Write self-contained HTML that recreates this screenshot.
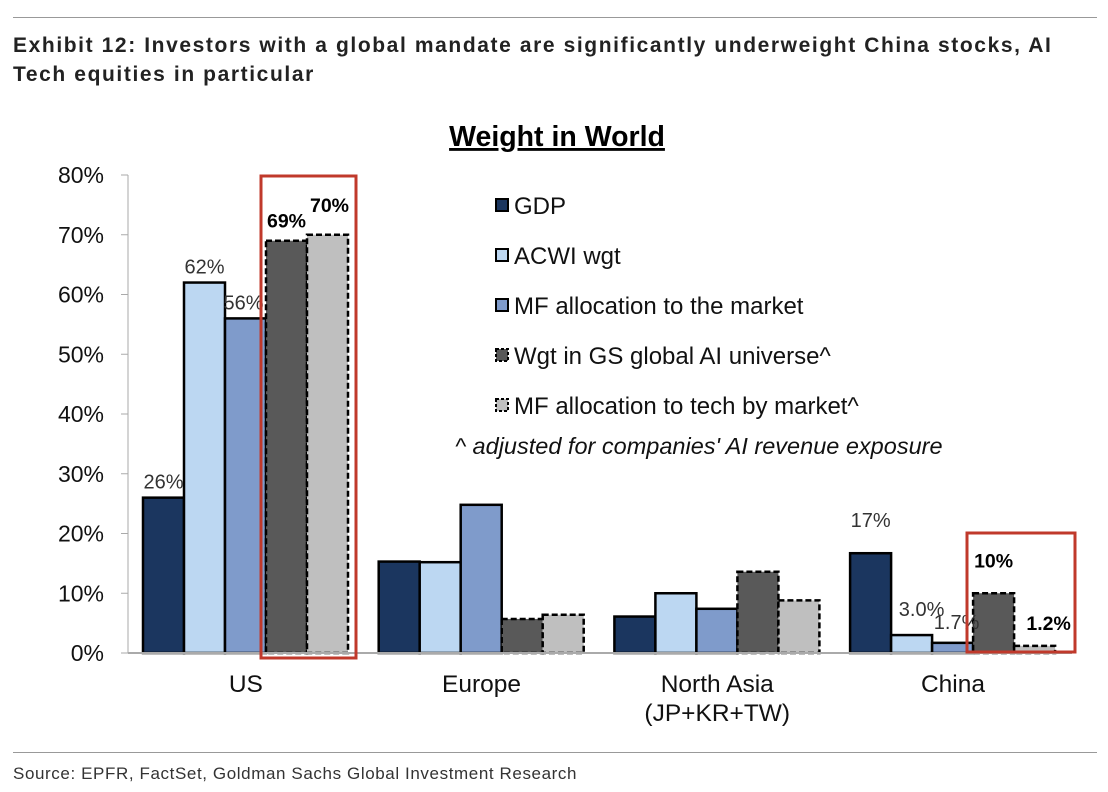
<!DOCTYPE html>
<html><head><meta charset="utf-8"><style>
body{margin:0;background:#fff;width:1108px;height:792px;overflow:hidden;font-family:"Liberation Sans",sans-serif}
#hdr{position:absolute;left:13px;top:31px;font-size:21px;font-weight:bold;color:#222;line-height:29px;width:1095px;letter-spacing:1.6px;white-space:nowrap}
.rule{position:absolute;left:13px;width:1084px;height:1px;background:#999}
#src{position:absolute;left:13px;top:764px;font-size:17px;color:#333;letter-spacing:0.6px}
</style></head><body>
<div class="rule" style="top:17px"></div>
<div id="hdr">Exhibit 12: Investors with a global mandate are significantly underweight China stocks, AI<br>Tech equities in particular</div>
<svg id="chart" width="1108" height="792" style="position:absolute;left:0;top:0"></svg>
<div class="rule" style="top:752px"></div>
<div id="src">Source: EPFR, FactSet, Goldman Sachs Global Investment Research</div>
<script>
const categories=["US","Europe","North Asia","China"];
const catSub=["","","(JP+KR+TW)",""];
const seriesNames=["GDP","ACWI wgt","MF allocation to the market","Wgt in GS global AI universe^","MF allocation to tech by market^"];
const gdp=[26,15.3,6.1,16.7];
const acwi=[62,15.2,10,3];
const mf=[56,24.8,7.4,1.7];
const ai=[69,5.7,13.6,10];
const tech=[70,6.4,8.8,1.2];
const yTicks=[0,10,20,30,40,50,60,70,80];
const labelsUS=["26%","62%","56%","69%","70%"];
const labelsChina=["17%","3.0%","1.7%","10%","1.2%"];
const NS="http://www.w3.org/2000/svg";
const svg=document.getElementById('chart');
function el(t,a,txt){const e=document.createElementNS(NS,t);for(const k in a)e.setAttribute(k,a[k]);if(txt!==undefined)e.textContent=txt;svg.appendChild(e);return e;}
const y0=653,pxPer=5.975,x0=128,catW=235.7,barW=41,gOff=15;
const y=v=>y0-v*pxPer;
const xb=(c,s)=>x0+c*catW+gOff+s*barW;
const fills=["#1b365f","#bcd7f2","#7f9bcb","#595959","#bfbfbf"];
let t=el('text',{x:557,y:146,'text-anchor':'middle','font-size':28.5,'font-weight':'bold','text-decoration':'underline',fill:'#000'},'Weight in World');

yTicks.forEach(v=>{const e=el('text',{x:104,y:y(v)+8,'text-anchor':'end','font-size':23,fill:'#111'},v+'%');

const l=el('line',{x1:x0-7,x2:x0,y1:y(v),y2:y(v),stroke:'#aaa'});});
let ax=el('line',{x1:x0,x2:x0,y1:y(80),y2:y0,stroke:'#aaa'});
const series=[gdp,acwi,mf,ai,tech];
categories.forEach((c,ci)=>{
 series.forEach((arr,si)=>{
  const a={x:xb(ci,si),y:y(arr[ci]),width:barW,height:y0-y(arr[ci]),fill:fills[si],stroke:'#000','stroke-width':2.5};
  if(si>=3)a['stroke-dasharray']='6,3';
  const r=el('rect',a);
 });
 const lt=el('text',{x:x0+ci*catW+catW/2,y:692,'text-anchor':'middle','font-size':24.5,fill:'#111'},c);
 
 if(catSub[ci]){const s=el('text',{x:x0+ci*catW+catW/2,y:721,'text-anchor':'middle','font-size':24.5,fill:'#111'},catSub[ci]);}
});
let xa=el('line',{x1:x0,x2:1072,y1:y0,y2:y0,stroke:'#aaa','stroke-width':2});
function vl(ci,si,arr,txt,bold,dx,dy){const e=el('text',{x:xb(ci,si)+barW/2+(dx||0),y:y(arr[ci])-9+(dy||0),'text-anchor':'middle','font-size':bold?19.5:20,'font-weight':bold?'bold':'normal',fill:bold?'#000':'#333'},txt);}
vl(0,0,gdp,labelsUS[0]);vl(0,1,acwi,labelsUS[1]);vl(0,2,mf,labelsUS[2],false,-2,0);vl(0,3,ai,labelsUS[3],true,0,-4);vl(0,4,tech,labelsUS[4],true,2,-14);
vl(3,0,gdp,labelsChina[0],false,0,-17);vl(3,1,acwi,labelsChina[1],false,10,-10);vl(3,2,mf,labelsChina[2],false,4,-5);vl(3,3,ai,labelsChina[3],true,0,-17);vl(3,4,tech,labelsChina[4],true,14,-7);
let b1=el('rect',{x:261,y:176,width:95,height:482,fill:'none',stroke:'#c0392b','stroke-width':3});
let b2=el('rect',{x:967,y:533,width:108,height:119,fill:'none',stroke:'#c0392b','stroke-width':3});
seriesNames.forEach((n,i)=>{const yy=206+i*50;
 const a={x:496,y:yy-7,width:12,height:12,fill:fills[i],stroke:'#000','stroke-width':2};if(i>=3)a['stroke-dasharray']='3,2';
 const r=el('rect',a);
 const e=el('text',{x:514,y:yy+8,'font-size':24,fill:'#111'},n);});
let fn=el('text',{x:455,y:454,'font-size':23.5,'font-style':'italic',fill:'#111'},"^ adjusted for companies' AI revenue exposure");

</script>
</body></html>
